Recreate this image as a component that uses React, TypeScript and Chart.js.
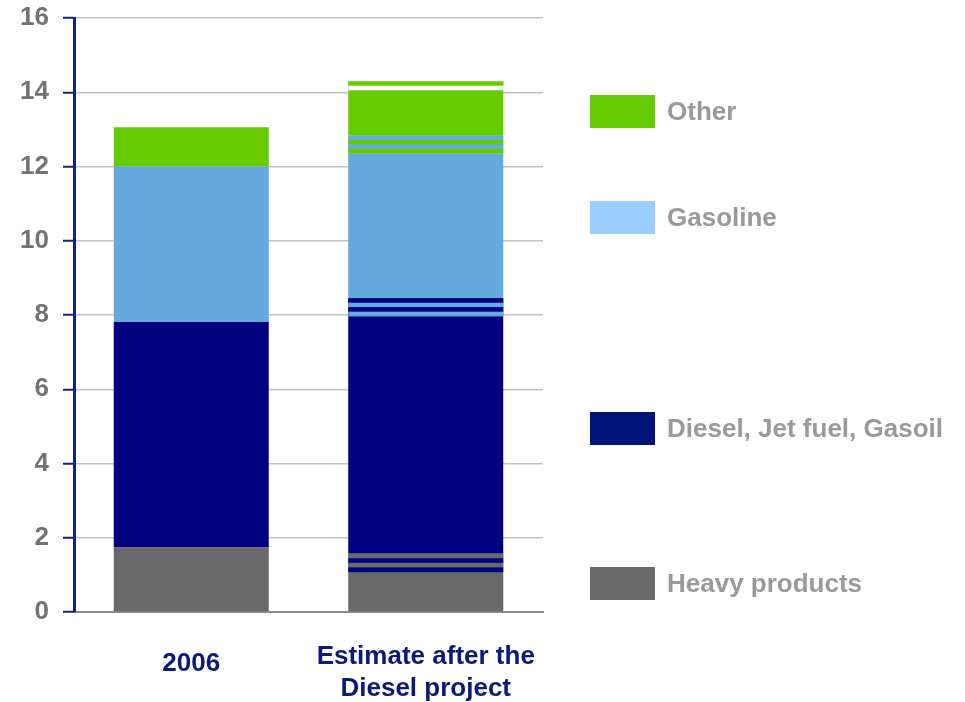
import { useEffect, useRef } from 'react';
import { Chart, registerables } from 'chart.js';

Chart.register(...registerables);

// Categories on the x axis (multi-line labels as arrays)
const categories: string[][] = [['2006'], ['Estimate after the', 'Diesel project']];

// Stacked segments, bottom to top
const heavy = [1.74, 1.08];
const heavyToDiesel = [0, 0.49];
const diesel = [6.07, 6.4];
const dieselToGasoline = [0, 0.48];
const gasoline = [4.19, 3.91];
const gasolineToOther = [0, 0.47];
const other = [1.06, 1.23];
const otherTop = [0, 0.23];

// Axis range
const yMin = 0;
const yMax = 16;
const yStep = 2;

// Legend entries, top to bottom
const legendLabels = ['Other', 'Gasoline', 'Diesel, Jet fuel, Gasoil', 'Heavy products'];

const GREEN = '#66cc00';
const BLUE = '#66aadd';
const NAVY = '#000080';
const GRAY = '#696969';
const WHITE = '#ffffff';

const legendColors = [GREEN, '#99ccff', '#00137a', GRAY];
const legendTops = [95, 201, 412, 567];

const FONT = '"Liberation Sans", Arial, sans-serif';

// Paints horizontal bands inside the bars of datasets that carry a `bands` list
const bandPlugin = {
  id: 'bands',
  afterDatasetsDraw(chart: any) {
    const { ctx, chartArea } = chart;
    ctx.save();
    ctx.beginPath();
    ctx.rect(chartArea.left, chartArea.top - 20, chartArea.right - chartArea.left, chartArea.bottom - chartArea.top + 20);
    ctx.clip();
    chart.data.datasets.forEach((ds: any, i: number) => {
      if (!ds.bands) return;
      const meta = chart.getDatasetMeta(i);
      meta.data.forEach((el: any) => {
        const { x, y, base, width } = el.getProps(['x', 'y', 'base', 'width'], true);
        const top = Math.min(y, base);
        const h = Math.abs(base - y);
        if (h < 0.5) return;
        const n = ds.bands.length;
        const bh = h / n;
        ds.bands.forEach((c: string, k: number) => {
          ctx.fillStyle = c;
          ctx.fillRect(x - width / 2, top + k * bh, width, bh + 0.3);
        });
      });
    });
    ctx.restore();
  },
};

export default function App() {
  const canvasRef = useRef<HTMLCanvasElement>(null);

  useEffect(() => {
    if (!canvasRef.current) return;
    const bar = { barPercentage: 0.661, categoryPercentage: 1, borderWidth: 0, stack: 's' };
    const chart = new Chart(canvasRef.current, {
      type: 'bar',
      data: {
        labels: categories,
        datasets: [
          { label: 'Heavy products', data: heavy, backgroundColor: GRAY, ...bar },
          { label: 'Heavy/Diesel', data: heavyToDiesel, backgroundColor: GRAY, bands: [GRAY, NAVY, GRAY, NAVY], ...bar } as any,
          { label: 'Diesel, Jet fuel, Gasoil', data: diesel, backgroundColor: NAVY, ...bar },
          { label: 'Diesel/Gasoline', data: dieselToGasoline, backgroundColor: NAVY, bands: [NAVY, BLUE, NAVY, BLUE], ...bar } as any,
          { label: 'Gasoline', data: gasoline, backgroundColor: BLUE, ...bar },
          { label: 'Gasoline/Other', data: gasolineToOther, backgroundColor: BLUE, bands: [BLUE, GREEN, BLUE, GREEN], ...bar } as any,
          { label: 'Other', data: other, backgroundColor: GREEN, ...bar },
          { label: 'Other top', data: otherTop, backgroundColor: GREEN, bands: [GREEN, WHITE], ...bar } as any,
        ],
      },
      options: {
        responsive: false,
        animation: false,
        layout: { padding: { top: 18, right: 422, bottom: 0, left: 0 } },
        plugins: { legend: { display: false }, tooltip: { enabled: false } },
        scales: {
          x: {
            stacked: true,
            grid: { display: false, drawTicks: false },
            border: { display: true, color: '#8a8a8a', width: 2 },
            ticks: {
              color: '#0b1a78',
              padding: 29,
              maxRotation: 0,
              autoSkip: false,
              font: (c: any) => ({
                family: FONT,
                size: 26,
                weight: 'bold',
                lineHeight: c.index === 0 ? 1.77 : 1.23,
              }),
            },
            afterFit: (s: any) => {
              s.height = 90;
              s.paddingLeft = 0;
              s.paddingRight = 0;
            },
          },
          y: {
            stacked: true,
            min: yMin,
            max: yMax,
            ticks: {
              stepSize: yStep,
              color: '#737373',
              padding: 14,
              font: { family: FONT, size: 26, weight: 'bold' },
            },
            grid: {
              color: '#c4c4c4',
              lineWidth: 1.5,
              drawTicks: true,
              tickLength: 11,
              tickColor: '#0f2288',
              tickWidth: 2,
            },
            border: { display: true, color: '#0f2288', width: 3 },
            afterFit: (s: any) => {
              s.width = 74;
              s.paddingTop = 0;
              s.paddingBottom = 0;
            },
          },
        },
      },
      plugins: [bandPlugin],
    });
    return () => chart.destroy();
  }, []);

  return (
    <div style={{ position: 'fixed', left: 0, top: 0, width: 965, height: 702, background: '#fff' }}>
      <canvas ref={canvasRef} width={965} height={702} style={{ display: 'block' }} />
      {legendLabels.map((label, i) => (
        <div
          key={label}
          style={{
            position: 'absolute',
            left: 590,
            top: legendTops[i],
            height: 33,
            display: 'flex',
            alignItems: 'center',
            whiteSpace: 'nowrap',
          }}
        >
          <div style={{ width: 65, height: 33, background: legendColors[i] }} />
          <span
            style={{
              marginLeft: 12,
              fontFamily: FONT,
              fontWeight: 'bold',
              fontSize: 26,
              color: '#9a9a9a',
              lineHeight: '33px',
            }}
          >
            {label}
          </span>
        </div>
      ))}
    </div>
  );
}
